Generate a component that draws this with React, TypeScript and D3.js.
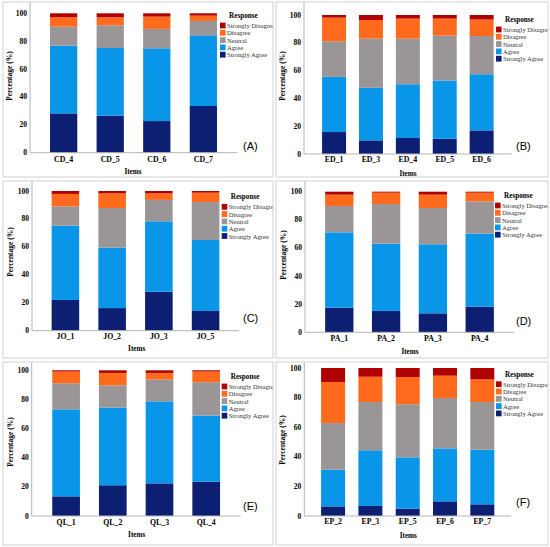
import React, { useEffect, useRef } from 'react';
import * as d3 from 'd3';

// response categories, bottom of the stack first
const categories = ['Strongly Agree', 'Agree', 'Neutral', 'Disagree', 'Strongly Disagree'];
const yTicks = [0, 20, 40, 60, 80, 100];

const cdItems = ['CD_4', 'CD_5', 'CD_6', 'CD_7'];
const cdValues = [
  [28.2, 48.6, 13.6, 6.7, 2.9],
  [26.6, 48.5, 16.3, 5.7, 2.9],
  [22.7, 52.2, 13.9, 8.8, 2.4],
  [33.5, 50.7, 10.3, 3.8, 1.7],
];

const edItems = ['ED_1', 'ED_3', 'ED_4', 'ED_5', 'ED_6'];
const edValues = [
  [15.8, 39.7, 25.6, 17.0, 1.9],
  [9.8, 37.8, 35.4, 13.4, 3.6],
  [11.5, 38.7, 32.8, 14.4, 2.6],
  [11.0, 41.9, 32.3, 12.2, 2.6],
  [17.0, 40.4, 27.5, 11.8, 3.3],
];

const joItems = ['JO_1', 'JO_2', 'JO_3', 'JO_5'];
const joValues = [
  [22.0, 53.2, 13.8, 8.9, 2.1],
  [16.2, 43.2, 28.4, 10.5, 1.7],
  [27.9, 50.4, 15.3, 4.7, 1.7],
  [14.1, 50.8, 27.2, 6.7, 1.2],
];

const paItems = ['PA_1', 'PA_2', 'PA_3', 'PA_4'];
const paValues = [
  [17.5, 53.6, 18.7, 8.1, 2.1],
  [15.2, 47.8, 28.2, 8.1, 0.7],
  [13.5, 49.1, 25.8, 9.5, 2.1],
  [18.2, 51.9, 23.0, 6.2, 0.7],
];

const qlItems = ['QL_1', 'QL_2', 'QL_3', 'QL_4'];
const qlValues = [
  [13.5, 59.7, 17.9, 8.0, 0.9],
  [21.1, 53.3, 15.3, 8.5, 1.8],
  [22.4, 56.3, 15.1, 4.4, 1.8],
  [23.6, 45.3, 22.9, 7.3, 0.9],
];

const epItems = ['EP_2', 'EP_3', 'EP_5', 'EP_6', 'EP_7'];
const epValues = [
  [6.5, 24.8, 31.5, 27.7, 9.5],
  [6.8, 37.6, 32.6, 17.1, 5.9],
  [5.0, 34.6, 35.9, 18.4, 6.1],
  [9.9, 35.8, 34.0, 15.1, 5.2],
  [7.9, 36.9, 32.2, 15.3, 7.7],
];

const colors = ['#0d1f72', '#0a96e8', '#9a9596', '#ff6a1c', '#b00202'];

const serif = "'Liberation Serif', 'Times New Roman', serif";
const sans = "'Liberation Sans', Arial, sans-serif";

// panel layout in page pixels
const panels = [
  { tag: '(A)', items: cdItems, values: cdValues, frame: [3, 2, 270, 175], x0: 30, y0: 152.7, y100: 13.3, xr: 237, pIn: 0.415, pOut: 0.43, lx: 220, ly: 16, tagY: 146, labY: 159.3, titleX: 133, titleY: 172, yTitleX: 9, yTitleY: 76 },
  { tag: '(B)', items: edItems, values: edValues, frame: [276, 2, 272, 175], x0: 304, y0: 154, y100: 15, xr: 511.7, pIn: 0.35, pOut: 0.49, lx: 496, ly: 20, tagY: 146, labY: 159.3, titleX: 408, titleY: 173.7, yTitleX: 282, yTitleY: 76 },
  { tag: '(C)', items: joItems, values: joValues, frame: [3, 181, 270, 177], x0: 32, y0: 330.7, y100: 191, xr: 239, pIn: 0.41, pOut: 0.42, lx: 221.7, ly: 197.3, tagY: 318.3, labY: 336, titleX: 136.7, titleY: 349.3, yTitleX: 10, yTitleY: 252 },
  { tag: '(D)', items: paItems, values: paValues, frame: [276, 181, 272, 177], x0: 305, y0: 332.3, y100: 191.7, xr: 514, pIn: 0.395, pOut: 0.43, lx: 495, ly: 196, tagY: 320.7, labY: 338.3, titleX: 410, titleY: 351.7, yTitleX: 283, yTitleY: 255 },
  { tag: '(E)', items: qlItems, values: qlValues, frame: [3, 362, 270, 183], x0: 31.7, y0: 516, y100: 370.3, xr: 240.6, pIn: 0.407, pOut: 0.44, lx: 221.7, ly: 377, tagY: 506, labY: 522.7, titleX: 136.7, titleY: 535.3, yTitleX: 10, yTitleY: 442 },
  { tag: '(F)', items: epItems, values: epValues, frame: [276, 362, 272, 183], x0: 304.3, y0: 516, y100: 368, xr: 511.1, pIn: 0.357, pOut: 0.45, lx: 496, ly: 374.7, tagY: 502, labY: 521.3, titleX: 408.3, titleY: 536, yTitleX: 282, yTitleY: 440 },
];

const App = () => {
  const ref = useRef<SVGSVGElement>(null);

  useEffect(() => {
    const svg = d3.select(ref.current);
    svg.selectAll('*').remove();

    panels.forEach((p, pi) => {
      const [fx, fy, fw, fh] = p.frame;
      const clipId = `clip-${pi}`;
      svg
        .append('clipPath')
        .attr('id', clipId)
        .append('rect')
        .attr('x', fx)
        .attr('y', fy)
        .attr('width', fw)
        .attr('height', fh);

      const g = svg.append('g').attr('clip-path', `url(#${clipId})`);

      const x = d3
        .scaleBand<string>()
        .domain(p.items)
        .range([p.x0, p.xr])
        .paddingInner(p.pIn)
        .paddingOuter(p.pOut);

      const y = d3.scaleLinear().domain([0, 100]).range([p.y0, p.y100]);

      const rows = p.items.map((item, i) => {
        const row: any = { item };
        categories.forEach((c, j) => (row[c] = p.values[i][j]));
        return row;
      });
      const series = d3.stack<any>().keys(categories)(rows);

      g.selectAll('g.series')
        .data(series)
        .join('g')
        .attr('fill', (_d, i) => colors[i])
        .selectAll('rect')
        .data(d => d)
        .join('rect')
        .attr('x', d => x(d.data.item)!)
        .attr('width', x.bandwidth())
        .attr('y', d => y(d[1]))
        .attr('height', d => y(d[0]) - y(d[1]));

      // axis lines
      g.append('line')
        .attr('x1', p.x0)
        .attr('x2', p.x0)
        .attr('y1', fy)
        .attr('y2', p.y0)
        .attr('stroke', '#b5b5b5')
        .attr('stroke-width', 1);
      g.append('line')
        .attr('x1', p.x0)
        .attr('x2', p.xr)
        .attr('y1', p.y0)
        .attr('y2', p.y0)
        .attr('stroke', '#b5b5b5')
        .attr('stroke-width', 1);

      g.selectAll('text.ytick')
        .data(yTicks)
        .join('text')
        .attr('x', p.x0 - 3)
        .attr('y', d => y(d))
        .attr('text-anchor', 'end')
        .attr('dominant-baseline', 'central')
        .style('font-family', serif)
        .style('font-weight', 'bold')
        .style('font-size', '7.5px')
        .text(d => d);

      g.selectAll('text.xlab')
        .data(p.items)
        .join('text')
        .attr('x', d => x(d)! + x.bandwidth() / 2)
        .attr('y', p.labY)
        .attr('text-anchor', 'middle')
        .attr('dominant-baseline', 'central')
        .style('font-family', serif)
        .style('font-weight', 'bold')
        .style('font-size', '7.8px')
        .text(d => d);

      g.append('text')
        .attr('x', p.titleX)
        .attr('y', p.titleY)
        .attr('text-anchor', 'middle')
        .attr('dominant-baseline', 'central')
        .style('font-family', serif)
        .style('font-weight', 'bold')
        .style('font-size', '7.2px')
        .text('Items');

      g.append('text')
        .attr('transform', `translate(${p.yTitleX},${p.yTitleY}) rotate(-90)`)
        .attr('text-anchor', 'middle')
        .attr('dominant-baseline', 'central')
        .style('font-family', serif)
        .style('font-weight', 'bold')
        .style('font-size', '7.5px')
        .text('Percentage (%)');

      // legend
      g.append('text')
        .attr('x', p.lx + 9)
        .attr('y', p.ly)
        .attr('dominant-baseline', 'central')
        .style('font-family', serif)
        .style('font-weight', 'bold')
        .style('font-size', '7.2px')
        .text('Response');

      const legendKeys = categories.slice().reverse();
      const lg = g
        .selectAll('g.legend')
        .data(legendKeys)
        .join('g')
        .attr('transform', (_d, i) => `translate(${p.lx},${p.ly + 9.5 + i * 7.3})`);
      lg.append('rect')
        .attr('x', 0)
        .attr('y', -2.9)
        .attr('width', 5.6)
        .attr('height', 5.8)
        .attr('fill', d => colors[categories.indexOf(d)]);
      lg.append('text')
        .attr('x', 7)
        .attr('y', 0)
        .attr('dominant-baseline', 'central')
        .style('font-family', serif)
        .style('font-size', '6.6px')
        .attr('fill', '#333')
        .text(d => d);

      g.append('text')
        .attr('x', fx + 240)
        .attr('y', p.tagY)
        .attr('dominant-baseline', 'central')
        .style('font-family', sans)
        .style('font-size', '11px')
        .text(p.tag);

      svg
        .append('rect')
        .attr('x', fx)
        .attr('y', fy)
        .attr('width', fw)
        .attr('height', fh)
        .attr('fill', 'none')
        .attr('stroke', '#d2d2d2')
        .attr('stroke-width', 1);
    });
  }, []);

  return (
    <svg
      ref={ref}
      width={550}
      height={547}
      style={{ position: 'absolute', left: 0, top: 0, background: '#fff' }}
    ></svg>
  );
};

export default App;
